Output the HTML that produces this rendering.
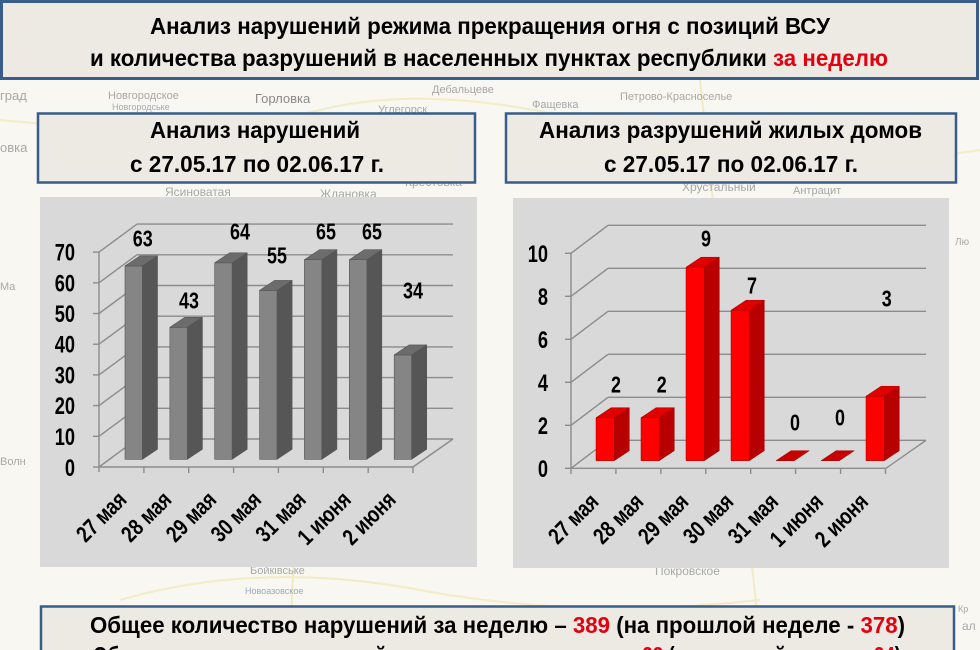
<!DOCTYPE html>
<html><head><meta charset="utf-8">
<style>
html,body{margin:0;padding:0;background:#f8f7f2;}
svg{display:block;}
text{font-family:"Liberation Sans","DejaVu Sans",sans-serif;}
.b{font-weight:bold;fill:#000;}
.map{fill:#a8a8a8;font-size:11px;}
</style></head>
<body>
<svg width="980" height="650" viewBox="0 0 980 650" xmlns="http://www.w3.org/2000/svg">
<rect x="0" y="0" width="980" height="650" fill="#f8f7f2"/>
<!-- faint map roads -->
<g stroke="#f1e8b8" stroke-width="2" fill="none" opacity="0.8">
<path d="M0 120 Q200 140 320 110 T620 130 T980 150"/>
<path d="M120 600 Q260 560 420 590 T760 600"/>
<path d="M700 80 L760 640"/>
<path d="M310 200 L290 640"/>
</g>
<!-- faint map labels -->
<g class="map">
<text x="0" y="100" font-size="13">град</text>
<text x="108" y="99">Новгородское</text>
<text x="112" y="110" font-size="9">Новгородське</text>
<text x="255" y="103" font-size="13" fill="#8a8a8a">Горловка</text>
<text x="432" y="93">Дебальцеве</text>
<text x="378" y="113">Углегорск</text>
<text x="532" y="108">Фащевка</text>
<text x="620" y="100">Петрово-Красноселье</text>
<text x="0" y="152" font-size="13">овка</text>
<text x="165" y="196" font-size="12">Ясиноватая</text>
<text x="320" y="198" font-size="12">Ждановка</text>
<text x="405" y="186" font-size="12">Крестовка</text>
<text x="682" y="191" font-size="12">Хрустальный</text>
<text x="793" y="194">Антрацит</text>
<text x="250" y="574">Бойківське</text>
<text x="655" y="575" font-size="12">Покровское</text>
<text x="245" y="594" font-size="9" fill="#9ab">Новоазовское</text>
<text x="962" y="630" font-size="12">ал</text>
<text x="958" y="612" font-size="9">Кр</text>
<text x="0" y="465" font-size="11">Волн</text>
<text x="0" y="290" font-size="11">Ма</text>
<text x="955" y="245" font-size="10">Лю</text>
</g>

<!-- Title box -->
<rect x="1.5" y="1.5" width="976" height="77" fill="#eceae3" stroke="#385d8a" stroke-width="3"/>
<text class="b" x="150" y="34" font-size="23" textLength="680" lengthAdjust="spacingAndGlyphs">Анализ нарушений режима прекращения огня с позиций ВСУ</text>
<text class="b" x="90" y="66" font-size="23" textLength="798" lengthAdjust="spacingAndGlyphs">и количества разрушений в населенных пунктах республики <tspan fill="#e3000f">за неделю</tspan></text>

<!-- Subtitle boxes -->
<rect x="38" y="113.5" width="437" height="69" fill="#eceae3" stroke="#385d8a" stroke-width="2.5"/>
<text class="b" x="150" y="138" font-size="23" textLength="210" lengthAdjust="spacingAndGlyphs">Анализ нарушений</text>
<text class="b" x="130" y="172" font-size="23" textLength="254" lengthAdjust="spacingAndGlyphs">с 27.05.17 по 02.06.17 г.</text>

<rect x="506" y="113.5" width="450" height="69" fill="#eceae3" stroke="#385d8a" stroke-width="2.5"/>
<text class="b" x="539" y="138" font-size="23" textLength="383" lengthAdjust="spacingAndGlyphs">Анализ разрушений жилых домов</text>
<text class="b" x="604" y="172" font-size="23" textLength="254" lengthAdjust="spacingAndGlyphs">с 27.05.17 по 02.06.17 г.</text>

<!-- ================= LEFT CHART ================= -->
<rect x="40" y="197" width="437" height="370" fill="#d9d9d9"/>
<g stroke="#8c8c8c" stroke-width="1.4" fill="none">
<!-- back wall lines -->
<line x1="137" y1="439" x2="453" y2="439"/>
<line x1="137" y1="408.3" x2="453" y2="408.3"/>
<line x1="137" y1="377.6" x2="453" y2="377.6"/>
<line x1="137" y1="346.9" x2="453" y2="346.9"/>
<line x1="137" y1="316.2" x2="453" y2="316.2"/>
<line x1="137" y1="285.5" x2="453" y2="285.5"/>
<line x1="137" y1="254.8" x2="453" y2="254.8"/>
<line x1="137" y1="224.1" x2="453" y2="224.1"/>
<!-- side wall diagonals -->
<line x1="99" y1="467" x2="137" y2="439"/>
<line x1="99" y1="436.3" x2="137" y2="408.3"/>
<line x1="99" y1="405.6" x2="137" y2="377.6"/>
<line x1="99" y1="374.9" x2="137" y2="346.9"/>
<line x1="99" y1="344.2" x2="137" y2="316.2"/>
<line x1="99" y1="313.5" x2="137" y2="285.5"/>
<line x1="99" y1="282.8" x2="137" y2="254.8"/>
<line x1="99" y1="252.1" x2="137" y2="224.1"/>
<!-- left ticks -->
<line x1="93" y1="467" x2="99" y2="467"/>
<line x1="93" y1="436.3" x2="99" y2="436.3"/>
<line x1="93" y1="405.6" x2="99" y2="405.6"/>
<line x1="93" y1="374.9" x2="99" y2="374.9"/>
<line x1="93" y1="344.2" x2="99" y2="344.2"/>
<line x1="93" y1="313.5" x2="99" y2="313.5"/>
<line x1="93" y1="282.8" x2="99" y2="282.8"/>
<line x1="93" y1="252.1" x2="99" y2="252.1"/>
<!-- axis -->
<line x1="99" y1="252.1" x2="99" y2="472"/>
<!-- floor -->
<line x1="99" y1="467" x2="413" y2="467"/>
<line x1="413" y1="467" x2="453" y2="439"/>
<!-- bottom ticks -->
<line x1="143.9" y1="467" x2="143.9" y2="473"/>
<line x1="188.7" y1="467" x2="188.7" y2="473"/>
<line x1="233.6" y1="467" x2="233.6" y2="473"/>
<line x1="278.4" y1="467" x2="278.4" y2="473"/>
<line x1="323.3" y1="467" x2="323.3" y2="473"/>
<line x1="368.2" y1="467" x2="368.2" y2="473"/>
<line x1="413" y1="467" x2="413" y2="473"/>
</g>
<!-- grey bars -->
<g stroke="#555" stroke-width="0.6" stroke-linejoin="round">
<!-- bar: x, top -->
<g>
<rect x="125" y="265.9" width="17.5" height="193.4" fill="#858585"/>
<polygon points="142.5,265.9 157.5,255.9 157.5,449.3 142.5,459.3" fill="#565656"/>
<polygon points="125,265.9 142.5,265.9 157.5,255.9 140,255.9" fill="#6c6c6c"/>
</g>
<g>
<rect x="169.9" y="327.3" width="17.5" height="132" fill="#858585"/>
<polygon points="187.4,327.3 202.4,317.3 202.4,449.3 187.4,459.3" fill="#565656"/>
<polygon points="169.9,327.3 187.4,327.3 202.4,317.3 184.9,317.3" fill="#6c6c6c"/>
</g>
<g>
<rect x="214.7" y="262.8" width="17.5" height="196.5" fill="#858585"/>
<polygon points="232.2,262.8 247.2,252.8 247.2,449.3 232.2,459.3" fill="#565656"/>
<polygon points="214.7,262.8 232.2,262.8 247.2,252.8 229.7,252.8" fill="#6c6c6c"/>
</g>
<g>
<rect x="259.6" y="290.4" width="17.5" height="168.9" fill="#858585"/>
<polygon points="277.1,290.4 292.1,280.4 292.1,449.3 277.1,459.3" fill="#565656"/>
<polygon points="259.6,290.4 277.1,290.4 292.1,280.4 274.6,280.4" fill="#6c6c6c"/>
</g>
<g>
<rect x="304.4" y="259.7" width="17.5" height="199.6" fill="#858585"/>
<polygon points="321.9,259.7 336.9,249.7 336.9,449.3 321.9,459.3" fill="#565656"/>
<polygon points="304.4,259.7 321.9,259.7 336.9,249.7 319.4,249.7" fill="#6c6c6c"/>
</g>
<g>
<rect x="349.3" y="259.7" width="17.5" height="199.6" fill="#858585"/>
<polygon points="366.8,259.7 381.8,249.7 381.8,449.3 366.8,459.3" fill="#565656"/>
<polygon points="349.3,259.7 366.8,259.7 381.8,249.7 364.3,249.7" fill="#6c6c6c"/>
</g>
<g>
<rect x="394.2" y="354.9" width="17.5" height="104.4" fill="#858585"/>
<polygon points="411.7,354.9 426.7,344.9 426.7,449.3 411.7,459.3" fill="#565656"/>
<polygon points="394.2,354.9 411.7,354.9 426.7,344.9 409.2,344.9" fill="#6c6c6c"/>
</g>
</g>
<!-- left y labels -->
<g class="b" font-size="24" text-anchor="end">
<text transform="translate(75,260.6) scale(0.76,1)">70</text>
<text transform="translate(75,291.3) scale(0.76,1)">60</text>
<text transform="translate(75,322) scale(0.76,1)">50</text>
<text transform="translate(75,352.7) scale(0.76,1)">40</text>
<text transform="translate(75,383.4) scale(0.76,1)">30</text>
<text transform="translate(75,414.1) scale(0.76,1)">20</text>
<text transform="translate(75,444.8) scale(0.76,1)">10</text>
<text transform="translate(75,476) scale(0.76,1)">0</text>
</g>
<!-- left value labels -->
<g class="b" font-size="23" text-anchor="middle">
<text transform="translate(142.7,246.5) scale(0.78,1)">63</text>
<text transform="translate(189,308.5) scale(0.78,1)">43</text>
<text transform="translate(240,239.5) scale(0.78,1)">64</text>
<text transform="translate(277,263.5) scale(0.78,1)">55</text>
<text transform="translate(326,239.5) scale(0.78,1)">65</text>
<text transform="translate(372,239.5) scale(0.78,1)">65</text>
<text transform="translate(413,298.5) scale(0.78,1)">34</text>
</g>
<!-- left x labels -->
<g class="b" font-size="23" text-anchor="end">
<text transform="translate(128,501) rotate(-45) scale(0.8,1)">27 мая</text>
<text transform="translate(172.9,501) rotate(-45) scale(0.8,1)">28 мая</text>
<text transform="translate(217.7,501) rotate(-45) scale(0.8,1)">29 мая</text>
<text transform="translate(262.6,501) rotate(-45) scale(0.8,1)">30 мая</text>
<text transform="translate(307.4,501) rotate(-45) scale(0.8,1)">31 мая</text>
<text transform="translate(352.3,501) rotate(-45) scale(0.8,1)">1 июня</text>
<text transform="translate(397.2,501) rotate(-45) scale(0.8,1)">2 июня</text>
</g>

<!-- ================= RIGHT CHART ================= -->
<rect x="513" y="198" width="436" height="370" fill="#d9d9d9"/>
<g stroke="#8c8c8c" stroke-width="1.4" fill="none">
<line x1="608" y1="440.3" x2="926" y2="440.3"/>
<line x1="608" y1="397.3" x2="926" y2="397.3"/>
<line x1="608" y1="354.3" x2="926" y2="354.3"/>
<line x1="608" y1="311.3" x2="926" y2="311.3"/>
<line x1="608" y1="268.3" x2="926" y2="268.3"/>
<line x1="608" y1="225.3" x2="926" y2="225.3"/>
<line x1="571" y1="468.3" x2="608" y2="440.3"/>
<line x1="571" y1="425.3" x2="608" y2="397.3"/>
<line x1="571" y1="382.3" x2="608" y2="354.3"/>
<line x1="571" y1="339.3" x2="608" y2="311.3"/>
<line x1="571" y1="296.3" x2="608" y2="268.3"/>
<line x1="571" y1="253.3" x2="608" y2="225.3"/>
<line x1="565" y1="468.3" x2="571" y2="468.3"/>
<line x1="565" y1="425.3" x2="571" y2="425.3"/>
<line x1="565" y1="382.3" x2="571" y2="382.3"/>
<line x1="565" y1="339.3" x2="571" y2="339.3"/>
<line x1="565" y1="296.3" x2="571" y2="296.3"/>
<line x1="565" y1="253.3" x2="571" y2="253.3"/>
<line x1="571" y1="253.3" x2="571" y2="474"/>
<line x1="571" y1="468.3" x2="886" y2="468.3"/>
<line x1="886" y1="468.3" x2="926" y2="440.3"/>
<line x1="615.9" y1="468.3" x2="615.9" y2="474"/>
<line x1="660.9" y1="468.3" x2="660.9" y2="474"/>
<line x1="705.8" y1="468.3" x2="705.8" y2="474"/>
<line x1="750.7" y1="468.3" x2="750.7" y2="474"/>
<line x1="795.6" y1="468.3" x2="795.6" y2="474"/>
<line x1="840.6" y1="468.3" x2="840.6" y2="474"/>
<line x1="885.5" y1="468.3" x2="885.5" y2="474"/>
</g>
<!-- red bars -->
<g stroke="#a00000" stroke-width="0.5" stroke-linejoin="round">
<g>
<rect x="596" y="417.7" width="18.3" height="43" fill="#ff0000"/>
<polygon points="614.3,417.7 629.3,407.7 629.3,450.7 614.3,460.7" fill="#b80000"/>
<polygon points="596,417.7 614.3,417.7 629.3,407.7 611,407.7" fill="#e00000"/>
</g>
<g>
<rect x="641" y="417.7" width="18.3" height="43" fill="#ff0000"/>
<polygon points="659.3,417.7 674.3,407.7 674.3,450.7 659.3,460.7" fill="#b80000"/>
<polygon points="641,417.7 659.3,417.7 674.3,407.7 656,407.7" fill="#e00000"/>
</g>
<g>
<rect x="686" y="267.2" width="18.3" height="193.5" fill="#ff0000"/>
<polygon points="704.3,267.2 719.3,257.2 719.3,450.7 704.3,460.7" fill="#b80000"/>
<polygon points="686,267.2 704.3,267.2 719.3,257.2 701,257.2" fill="#e00000"/>
</g>
<g>
<rect x="731" y="310.2" width="18.3" height="150.5" fill="#ff0000"/>
<polygon points="749.3,310.2 764.3,300.2 764.3,450.7 749.3,460.7" fill="#b80000"/>
<polygon points="731,310.2 749.3,310.2 764.3,300.2 746,300.2" fill="#e00000"/>
</g>
<polygon points="776,460.7 794.3,460.7 809.3,450.7 791,450.7" fill="#c80000"/>
<polygon points="821,460.7 839.3,460.7 854.3,450.7 836,450.7" fill="#c80000"/>
<g>
<rect x="866" y="396.2" width="18.3" height="64.5" fill="#ff0000"/>
<polygon points="884.3,396.2 899.3,386.2 899.3,450.7 884.3,460.7" fill="#b80000"/>
<polygon points="866,396.2 884.3,396.2 899.3,386.2 881,386.2" fill="#e00000"/>
</g>
</g>
<!-- right y labels -->
<g class="b" font-size="24" text-anchor="end">
<text transform="translate(548,261.8) scale(0.76,1)">10</text>
<text transform="translate(548,304.8) scale(0.76,1)">8</text>
<text transform="translate(548,347.8) scale(0.76,1)">6</text>
<text transform="translate(548,390.8) scale(0.76,1)">4</text>
<text transform="translate(548,433.8) scale(0.76,1)">2</text>
<text transform="translate(548,476.8) scale(0.76,1)">0</text>
</g>
<!-- right value labels -->
<g class="b" font-size="23" text-anchor="middle">
<text transform="translate(616,392.5) scale(0.78,1)">2</text>
<text transform="translate(661.7,392.5) scale(0.78,1)">2</text>
<text transform="translate(706,246.5) scale(0.78,1)">9</text>
<text transform="translate(752,293.5) scale(0.78,1)">7</text>
<text transform="translate(795,430.5) scale(0.78,1)">0</text>
<text transform="translate(840,425.5) scale(0.78,1)">0</text>
<text transform="translate(886.7,306.5) scale(0.78,1)">3</text>
</g>
<!-- right x labels -->
<g class="b" font-size="23" text-anchor="end">
<text transform="translate(600,503) rotate(-45) scale(0.8,1)">27 мая</text>
<text transform="translate(644.9,503) rotate(-45) scale(0.8,1)">28 мая</text>
<text transform="translate(689.9,503) rotate(-45) scale(0.8,1)">29 мая</text>
<text transform="translate(734.8,503) rotate(-45) scale(0.8,1)">30 мая</text>
<text transform="translate(779.7,503) rotate(-45) scale(0.8,1)">31 мая</text>
<text transform="translate(824.6,503) rotate(-45) scale(0.8,1)">1 июня</text>
<text transform="translate(869.6,503) rotate(-45) scale(0.8,1)">2 июня</text>
</g>

<!-- Bottom box -->
<rect x="41" y="606.5" width="913" height="60" fill="#eceae3" stroke="#385d8a" stroke-width="2.5"/>
<text class="b" x="90" y="633" font-size="23" textLength="815" lengthAdjust="spacingAndGlyphs">Общее количество нарушений за неделю – <tspan fill="#e3000f">389</tspan> (на прошлой неделе - <tspan fill="#e3000f">378</tspan>)</text>
<text class="b" x="93" y="663" font-size="23" textLength="808" lengthAdjust="spacingAndGlyphs">Общее количество разрушений жилых домов за неделю – <tspan fill="#e3000f">23</tspan> (на прошлой неделе - <tspan fill="#e3000f">24</tspan>)</text>
</svg>
</body></html>
